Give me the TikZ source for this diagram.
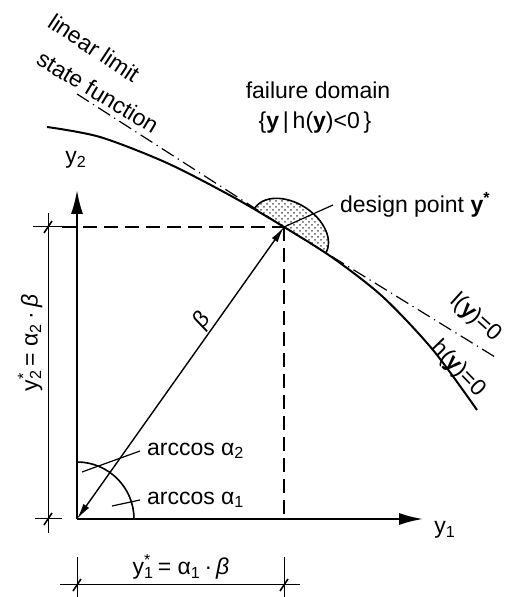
\documentclass[tikz,border=0pt]{standalone}
\usepackage{fontspec}
\setmainfont{Liberation Sans}
\usetikzlibrary{arrows.meta,positioning,calc,patterns}

\begin{document}
\begin{tikzpicture}[x=0.5pt,y=0.5pt,font=\fontsize{11.5}{13}\selectfont,
  axis/.style={line width=1pt,-{Latex[length=12pt,width=6pt]}},
  limitcurve/.style={line width=1pt},
  tangentline/.style={line width=0.6pt,dash pattern=on 7pt off 2.5pt on 0.6pt off 2.5pt},
  helpline/.style={line width=0.7pt,dash pattern=on 7pt off 3.5pt},
  dimline/.style={line width=0.5pt},
  leader/.style={line width=0.6pt},
  curvelabel/.style={inner sep=0.5pt}]
\useasboundingbox (0,0) rectangle (506,597);
% points of the picture
\coordinate (origin) at (77,78);
\coordinate (ystar) at (284,370);
\coordinate (y1end) at (423,78);
\coordinate (y2end) at (77,407);
% failure domain near the design point
\begin{scope}[shift={(290,366)},rotate=-32.5]
  \fill[pattern=crosshatch dots,pattern color=black!65] (-42,0) arc (180:0:42 and 28) -- cycle;
  \draw[line width=0.8pt] (-42,0) arc (180:0:42 and 28);
\end{scope}
% limit state function h(y)=0 and its tangent l(y)=0
\draw[limitcurve] plot[smooth] coordinates {(47,470) (100,460) (167,434) (233,400) (284,370) (333,339) (383,300) (433,247) (477,187)};
\draw[tangentline] (77,503) -- (ystar) -- (495,240);
% axes
\draw[axis] (origin) -- (y1end);
\draw[axis] (origin) -- (y2end);
\node (y1lab) at (445,67) {y\textsubscript{1}};
\node (y2lab) at (76,437) {y\textsubscript{2}};
% projections of the design point
\draw[helpline] (62,370) -- (ystar);
\draw[helpline] (ystar) -- (284,78);
% beta
\draw[line width=0.7pt,{Latex[length=8pt,width=3.5pt]}-{Latex[length=8pt,width=3.5pt]}] (origin) -- (ystar);
\node[rotate=54.7,curvelabel] (betalab) at (202,276) {\textit{β}};
% angles
\draw[line width=0.8pt] (134,78) arc (0:90:57);
\coordinate (a2tip) at (82,125);
\coordinate (a1tip) at (112,91);
\node[anchor=west] (arca2) at (140,146) {arccos α\textsubscript{2}};
\node[anchor=west] (arca1) at (140,97) {arccos α\textsubscript{1}};
\draw[leader] (a2tip) -- (arca2.west);
\draw[leader] (a1tip) -- (arca1.west);
% dimension y1*
\draw[dimline] (60,12) -- (300,12);
\draw[dimline] (77,40) -- (77,0);
\draw[dimline] (284,40) -- (284,0);
\node (dimy1) at (181,30) {y\rlap{\textsubscript{1}}\textsuperscript{*} = α\textsubscript{1}\,·\,\textit{β}};
% dimension y2*
\draw[dimline] (48,384) -- (48,64);
\draw[dimline] (33,370) -- (62,370);
\draw[dimline] (35,78) -- (62,78);
\node[rotate=90] (dimy2) at (30,254) {y\rlap{\textsubscript{2}}\textsuperscript{*} = α\textsubscript{2}\,·\,\textit{β}};
% ticks
\foreach \p in {(77,12),(284,12),(48,370),(48,78)}
  \draw[line width=0.8pt] \p ++(-4,-6) -- ++(8,12);
% labels of the limit state
\node[rotate=-33.5,curvelabel] (linlab) at (94,549) {linear limit};
\node[rotate=-31,curvelabel] (statelab) at (98,505) {state function};
\node (faillab) at (318,507) {failure domain};
\node (setlab) at (315,474) {\{\textbf{y}\,|\,h(\textbf{y})<0\,\}};
\node[anchor=west] (dplab) at (333,392) {design point \textbf{y}\textsuperscript{\textbf{*}}};
\draw[leader] (ystar) -- (dplab.west);
\node[rotate=-46,curvelabel] (hlab) at (458,228) {h(\textbf{y})=0};
\node[rotate=-42,curvelabel] (llab) at (476,279) {l(\textbf{y})=0};
\end{tikzpicture}
\end{document}
